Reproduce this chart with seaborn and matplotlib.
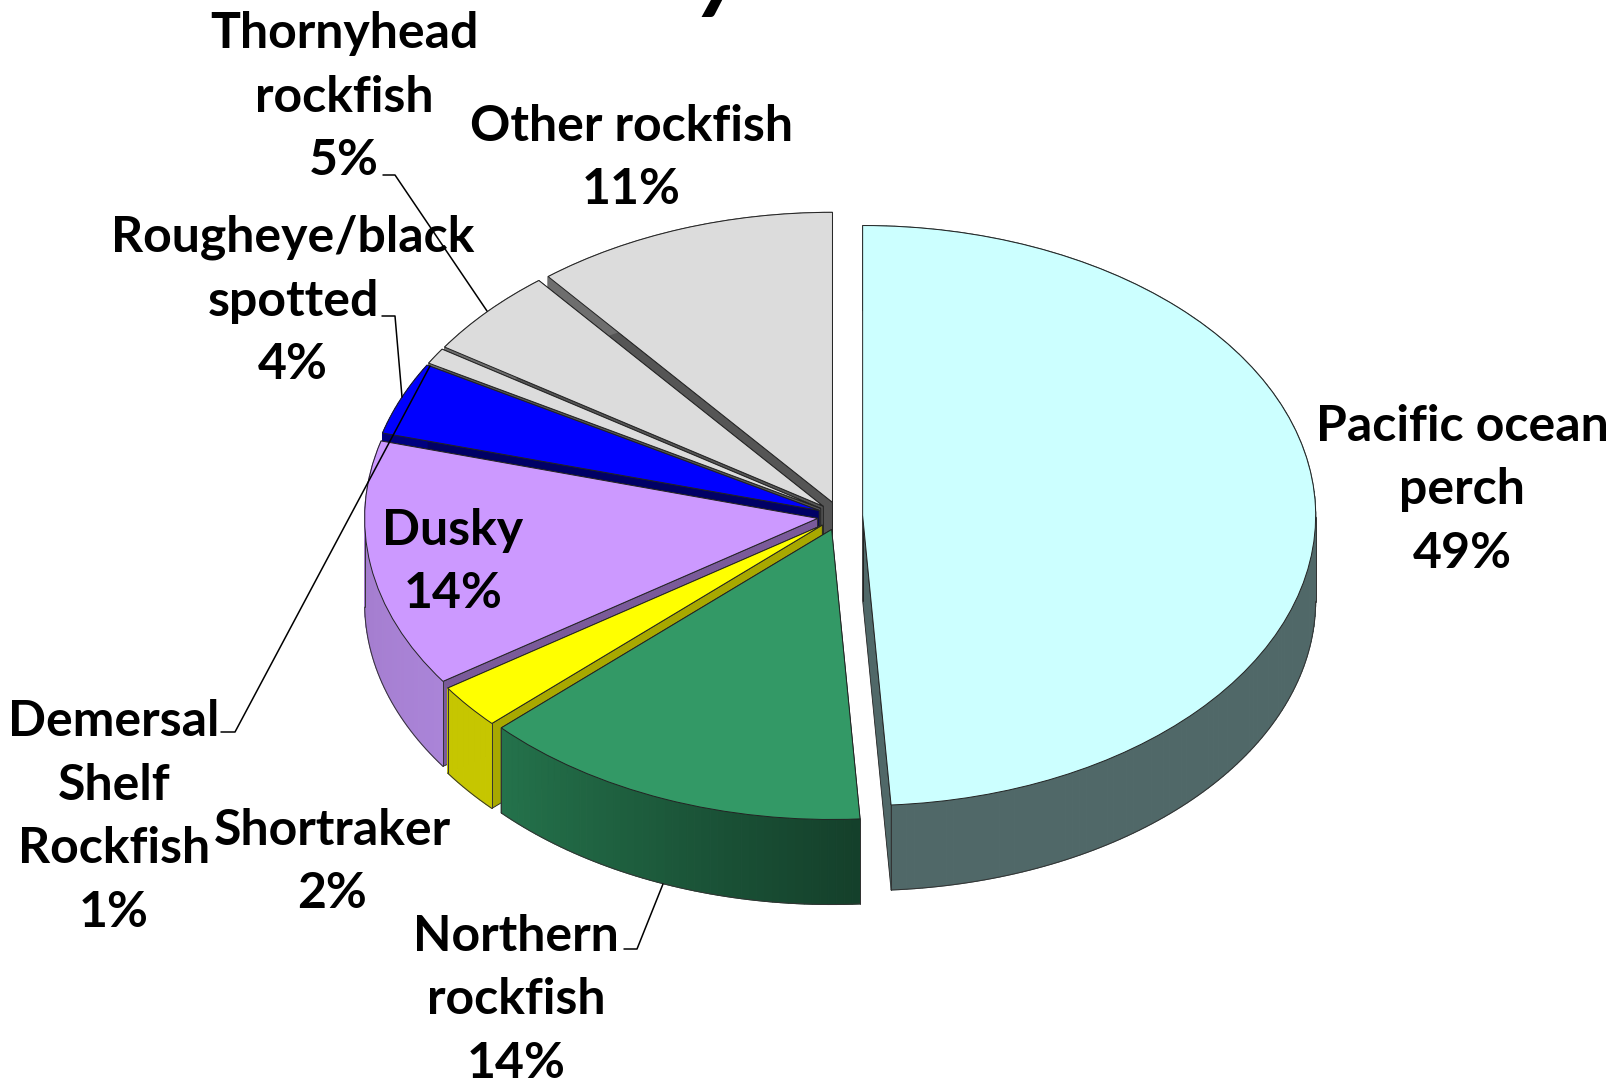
import numpy as np
import matplotlib
matplotlib.use("Agg")
import matplotlib.pyplot as plt
import seaborn as sns

sns.set_theme(style="white")
plt.rcParams['font.family'] = ['Lato', 'DejaVu Sans']

# shares, clockwise from 12 o'clock
species = ["Pacific ocean\nperch", "Northern\nrockfish", "Shortraker", "Dusky",
           "Rougheye/black\nspotted", "Demersal\nShelf\nRockfish",
           "Thornyhead\nrockfish", "Other rockfish"]
shares = [49.0, 14.01, 2.49, 13.8, 4.05, 0.9, 4.95, 10.8]

top_colors = ["#ccffff", "#339966", "#ffff00", "#cc99ff", "#0000ff", "#dcdcdc", "#dcdcdc", "#dcdcdc"]
face_colors = ["#506868", "#1f5f3f", "#a8a800", "#7a5a9a", "#000066", "#555555", "#555555", "#555555"]
wall_left = ["#506868", "#24724b", "#c6c600", "#a078c8", "#000080", "#6e6e6e", "#6e6e6e", "#6e6e6e"]
wall_right = ["#506868", "#143f2a", "#c6c600", "#aa84d8", "#000080", "#6e6e6e", "#6e6e6e", "#6e6e6e"]

# pixel size of the flattened pie in the 1617x1083 picture
W, H = 1617, 1083
cx, cy, rx, ry, depth_px = 840, 516, 453, 290, 85
depth = depth_px / ry


def px(x, y):
    return (x - cx) / rx, (cy - y) / ry


fig = plt.figure(figsize=(W / 100, H / 100), dpi=100)
ax = fig.add_axes([0, 0, 1, 1])
wedges, _ = ax.pie(shares, colors=top_colors, startangle=90, counterclock=False,
                   explode=[0.05] * len(shares),
                   wedgeprops=dict(edgecolor="#222222", linewidth=0.7))
ax.set_aspect("auto")
ax.set_xlim(px(0, 0)[0], px(W, 0)[0])
ax.set_ylim(px(0, H)[1], px(0, 0)[1])
ax.axis("off")

# paint from the back of the pie to the front
order = sorted(range(len(wedges)), key=lambda i: -wedges[i].center[1])
for rank, i in enumerate(order):
    w = wedges[i]
    x0, y0 = w.center
    z = 2 + rank
    w.set_zorder(z + 0.5)

    # cut faces
    for th in (w.theta1, w.theta2):
        ex, ey = x0 + np.cos(np.radians(th)), y0 + np.sin(np.radians(th))
        ax.fill([x0, ex, ex, x0], [y0, ey, ey - depth, y0 - depth],
                facecolor=face_colors[i], edgecolor="#222222", linewidth=0.6, zorder=z)

    # outer wall, in narrow strips so it can carry a gradient
    th = np.radians(np.linspace(w.theta1, w.theta2, max(3, int(w.theta2 - w.theta1) + 1)))
    xs, ys = x0 + np.cos(th), y0 + np.sin(th)
    pal = sns.blend_palette([wall_left[i], wall_right[i]], len(th))
    if xs[0] > xs[-1]:
        pal = pal[::-1]
    for k in range(len(th) - 1):
        ax.fill([xs[k], xs[k + 1], xs[k + 1], xs[k]],
                [ys[k], ys[k + 1], ys[k + 1] - depth, ys[k] - depth],
                facecolor=pal[k], edgecolor=pal[k], linewidth=0.8, zorder=z + 0.1)
    front = np.sin(th) < 0
    if front.any():
        ax.plot(xs[front], ys[front] - depth, color="#333333", lw=0.7, zorder=z + 0.2)
        for k in np.flatnonzero(front)[[0, -1]]:
            ax.plot([xs[k], xs[k]], [ys[k], ys[k] - depth], color="#333333", lw=0.7, zorder=z + 0.2)

# label centres in picture pixels
label_pos = [(1462, 490), (516, 1000), (332, 862), (453, 562),
             (293, 301), (114, 817), (344, 97), (631, 158)]
for name, share, (lx, ly) in zip(species, shares, label_pos):
    tx, ty = px(lx, ly)
    ax.text(tx, ty, f"{name}\n{round(share)}%", ha="center", va="center", fontsize=36,
            fontweight="bold", color="black", linespacing=1.5, zorder=60)

# leader lines
leaders = [[(383, 175), (395, 175), (487, 311)],
           [(382, 316), (395, 316), (402, 397)],
           [(221, 732), (235, 732), (430, 366)],
           [(624, 949), (637, 949), (663, 884)]]
for pts in leaders:
    lx, ly = zip(*[px(*p) for p in pts])
    ax.plot(lx, ly, color="black", lw=1.1, zorder=55)

# the title is cut off by the top of the picture, only a descender shows
tx, ty = px(722, 0)
ax.text(tx, ty, "y", ha="center", va="baseline", fontsize=72, fontweight="bold",
        style="italic", color="black", zorder=60)

fig.savefig("out.png", dpi=100, facecolor="white")
